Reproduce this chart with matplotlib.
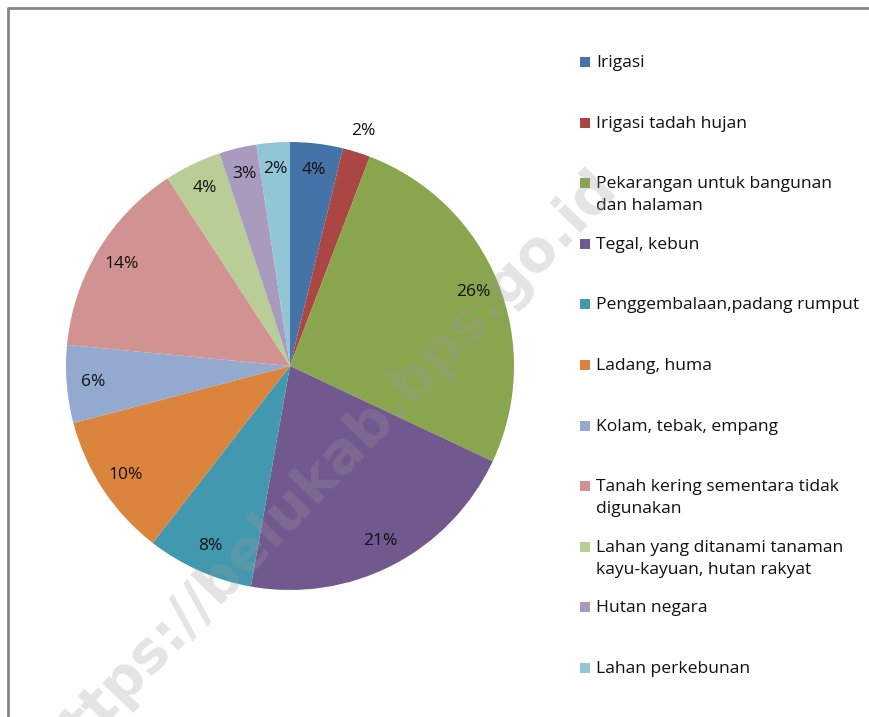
import matplotlib

matplotlib.use("Agg")
import matplotlib.pyplot as plt
from matplotlib.lines import Line2D
from matplotlib.patches import Rectangle

plt.rcParams["font.family"] = ["Open Sans", "DejaVu Sans"]

categories = [
    "Irigasi",
    "Irigasi tadah hujan",
    "Pekarangan untuk bangunan\ndan halaman",
    "Tegal, kebun",
    "Penggembalaan,padang rumput",
    "Ladang, huma",
    "Kolam, tebak, empang",
    "Tanah kering sementara tidak\ndigunakan",
    "Lahan yang ditanami tanaman\nkayu-kayuan, hutan rakyat",
    "Hutan negara",
    "Lahan perkebunan",
]
shares = [3.8, 2.0, 26.2, 20.8, 7.7, 10.4, 5.6, 14.3, 4.1, 2.7, 2.4]
colors = [
    "#4572A7", "#AA4643", "#89A54E", "#71588F", "#4198AF", "#DB843D",
    "#93A9CF", "#D19392", "#B9CD96", "#A99BBD", "#92C5D6",
]

W, H = 870, 717
fig = plt.figure(figsize=(W / 100, H / 100), dpi=100)
fig.patch.set_facecolor("white")

# pie area in pixels: center (290, 366), radius 224
ax = fig.add_axes([66 / W, 1 - 590 / H, 448 / W, 448 / H])
wedges, texts, autotexts = ax.pie(
    shares,
    colors=colors,
    startangle=90,
    counterclock=False,
    autopct="%.0f%%",
    pctdistance=0.88,
    wedgeprops=dict(linewidth=0),
    textprops=dict(fontsize=12.5, color="#111111"),
)
ax.set_xlim(-1, 1)
ax.set_ylim(-1, 1)
ax.set_aspect("equal")
ax.axis("off")

# small slice label sits outside in the original
x, y = autotexts[1].get_position()
autotexts[1].set_position((x * 1.25, y * 1.25))

# legend drawn by hand to keep equal slots with wrapped labels
for i, (name, c) in enumerate(zip(categories, colors)):
    ypix = 62 + i * 60.6
    fig.patches.append(
        Rectangle((580 / W, 1 - (ypix + 5) / H), 10 / W, 10 / H,
                  transform=fig.transFigure, facecolor=c, edgecolor="none")
    )
    fig.text(596 / W, 1 - (ypix - 7) / H, name, fontsize=12.6, va="top",
             ha="left", color="#111111", linespacing=1.5)

# outer frame (right/bottom edges fall outside the crop)
fig.add_artist(Line2D([8 / W, 8 / W, 1.01], [-0.01, 1 - 8 / H, 1 - 8 / H],
                      transform=fig.transFigure, color="#868686", lw=2))

# watermark
fig.text(325 / W, 1 - 470 / H, "https://belukab.bps.go.id", fontsize=41,
         fontweight="bold", rotation=46, color="#9a9a9a", alpha=0.27,
         ha="center", va="center", family="DejaVu Sans")

fig.savefig("out.png", dpi=100)
